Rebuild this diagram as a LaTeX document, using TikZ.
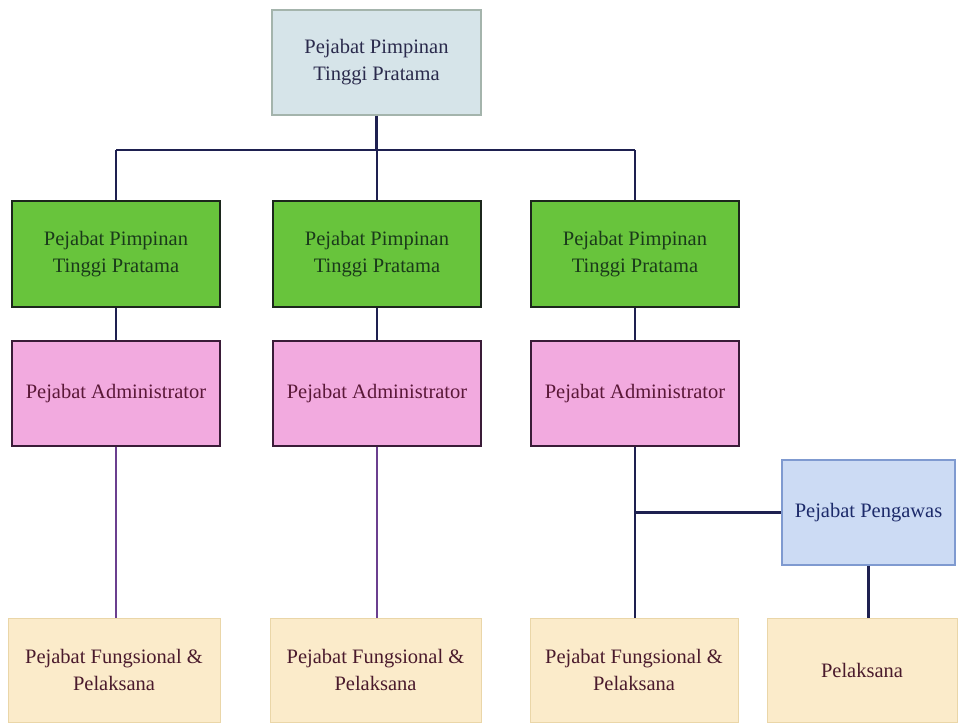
\documentclass[tikz,border=0pt]{standalone}
\usepackage{fontspec}
\setmainfont{Liberation Serif}
\begin{document}
\begin{tikzpicture}[x=1pt,y=-1pt,
  box/.style={rectangle, draw, line width=1.4pt, align=center, inner sep=2pt,
    font=\fontsize{20.5}{27}\selectfont},
  topbox/.style={box, fill=topfill, draw=topdraw, text=toptext, minimum width=209pt, minimum height=105pt},
  greenbox/.style={box, fill=greenfill, draw=greendraw, text=greentext, minimum width=208pt, minimum height=106pt},
  pinkbox/.style={box, fill=pinkfill, draw=pinkdraw, text=pinktext, minimum width=208pt, minimum height=105pt},
  bluebox/.style={box, fill=bluefill, draw=bluedraw, text=bluetext, minimum width=173pt, minimum height=105pt},
  basebox/.style={box, fill=basefill, draw=basedraw, line width=0.8pt, text=basetext, minimum height=104pt},
  conn/.style={draw=linecol, line width=2.4pt},
  connp/.style={draw=purpcol, line width=2.2pt}
]
\definecolor{topfill}{HTML}{D6E4E9}
\definecolor{topdraw}{HTML}{A4B4AC}
\definecolor{toptext}{HTML}{2A2A4C}
\definecolor{greenfill}{HTML}{68C43C}
\definecolor{greendraw}{HTML}{1C261C}
\definecolor{greentext}{HTML}{1A3A1A}
\definecolor{pinkfill}{HTML}{F2AADF}
\definecolor{pinkdraw}{HTML}{3A1C38}
\definecolor{pinktext}{HTML}{5A1838}
\definecolor{bluefill}{HTML}{CCDBF4}
\definecolor{bluedraw}{HTML}{7F9AD0}
\definecolor{bluetext}{HTML}{1C2A6A}
\definecolor{basefill}{HTML}{FBEBCA}
\definecolor{basedraw}{HTML}{EAD6A8}
\definecolor{basetext}{HTML}{4A1A2C}
\definecolor{linecol}{HTML}{1E2050}
\definecolor{purpcol}{HTML}{6B3F8F}

\useasboundingbox[fill=white] (0,0) rectangle (963,724);

\node[topbox] (top) at (376.5,62.5) {Pejabat Pimpinan\\Tinggi Pratama};

\node[greenbox] (g1) at (116,254) {Pejabat Pimpinan\\Tinggi Pratama};
\node[greenbox] (g2) at (377,254) {Pejabat Pimpinan\\Tinggi Pratama};
\node[greenbox] (g3) at (635,254) {Pejabat Pimpinan\\Tinggi Pratama};

\node[pinkbox] (p1) at (116,393.5) {Pejabat Administrator};
\node[pinkbox] (p2) at (377,393.5) {Pejabat Administrator};
\node[pinkbox] (p3) at (635,393.5) {Pejabat Administrator};

\node[bluebox] (peng) at (868.5,512.5) {Pejabat Pengawas};

\node[basebox, minimum width=212pt] (b1) at (114,670) {Pejabat Fungsional \&\\Pelaksana};
\node[basebox, minimum width=211pt] (b2) at (375.5,670) {Pejabat Fungsional \&\\Pelaksana};
\node[basebox, minimum width=208pt] (b3) at (634,670) {Pejabat Fungsional \&\\Pelaksana};
\node[basebox, minimum width=190pt] (b4) at (862,670) {Pelaksana};

\coordinate (bar) at (0,150);
\coordinate (junc) at (p3.south |- peng.west);

\draw[conn] (top.south) -- (top.south |- bar);
\draw[conn] (g1.north |- bar) -- (g3.north |- bar);
\draw[conn] (g1.north |- bar) -- (g1.north);
\draw[conn] (g2.north |- bar) -- (g2.north);
\draw[conn] (g3.north |- bar) -- (g3.north);

\draw[conn] (g1.south) -- (p1.north);
\draw[conn] (g2.south) -- (p2.north);
\draw[conn] (g3.south) -- (p3.north);

\draw[connp] (p1.south) -- (p1.south |- b1.north);
\draw[connp] (p2.south) -- (p2.south |- b2.north);
\draw[conn] (p3.south) -- (p3.south |- b3.north);
\draw[conn] (junc) -- (peng.west);
\draw[conn] (peng.south) -- (peng.south |- b4.north);
\end{tikzpicture}
\end{document}
